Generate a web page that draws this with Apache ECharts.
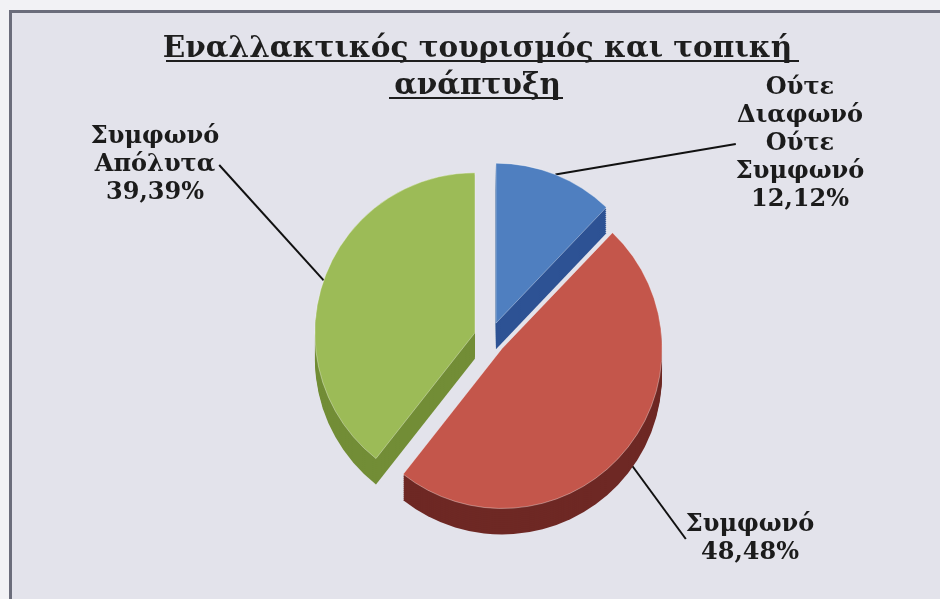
<!DOCTYPE html>
<html>
<head>
<meta charset="utf-8">
<title>Εναλλακτικός τουρισμός και τοπική ανάπτυξη</title>
<script src="https://cdn.jsdelivr.net/npm/echarts@6/dist/echarts.min.js"></script>
</head>
<body style="margin:0;background:#f2f2f5;">
<div id="main" style="position:absolute;left:9px;top:10px;width:931px;height:589px;border-left:3px solid #6b6d7b;border-top:3px solid #6b6d7b;"></div>
<script>
// data
var categories = ['Ούτε\nΔιαφωνό\nΟύτε\nΣυμφωνό', 'Συμφωνό', 'Συμφωνό\nΑπόλυτα'];
var percents = [12.12, 48.48, 39.39];

var topColors = ['#4f7fc0', '#c4564b', '#9cbb57'];
var sideColors = ['#2d5294', '#6e2824', '#728d36'];
var clearColors = ['rgba(0,0,0,0)', 'rgba(0,0,0,0)', 'rgba(0,0,0,0)'];

var chart = echarts.init(document.getElementById('main'));

var cx = 478, cy = 325, R = 160, depth = 26, explode = 16;
var serif = '"DejaVu Serif", "Liberation Serif", serif';

// label blocks (chart coords, top-centre of the text box)
var labelPos = [
  { x: 788, y: 61 },
  { x: 738, y: 498 },
  { x: 143, y: 110 }
];

function pieData(colors, sel) {
  var out = [];
  for (var i = 0; i < categories.length; i++) {
    out.push({
      name: categories[i],
      value: percents[i],
      selected: sel,
      itemStyle: { color: colors[i] }
    });
  }
  return out;
}

var series = [];
// side walls: darker copies pushed down
for (var d = depth; d >= 1; d -= 2) {
  series.push({
    type: 'pie',
    silent: true,
    center: [cx, cy + d],
    radius: R,
    startAngle: 90,
    selectedMode: 'multiple',
    selectedOffset: explode,
    label: { show: false },
    labelLine: { show: false },
    emphasis: { disabled: true },
    data: pieData(sideColors, true)
  });
}
// top face
series.push({
  type: 'pie',
  silent: true,
  center: [cx, cy],
  radius: R,
  startAngle: 90,
  selectedMode: 'multiple',
  selectedOffset: explode,
  itemStyle: { borderColor: 'rgba(255,255,255,0.35)', borderWidth: 1 },
  label: { show: false },
  labelLine: { show: false },
  emphasis: { disabled: true },
  data: pieData(topColors, true)
});
// invisible copy that carries the labels (radius reaches the exploded rim)
series.push({
  type: 'pie',
  silent: true,
  center: [cx, cy],
  radius: R + explode,
  startAngle: 90,
  emphasis: { disabled: true },
  label: {
    show: true,
    fontFamily: serif,
    fontWeight: 'bold',
    fontSize: 24,
    lineHeight: 28,
    color: '#1b1b1b',
    align: 'center',
    formatter: function (p) {
      return p.name + '\n' + p.value.toFixed(2).replace('.', ',') + '%';
    }
  },
  labelLine: {
    show: true,
    length: 10,
    length2: 0,
    lineStyle: { color: '#111', width: 2 }
  },
  labelLayout: function (p) {
    var pos = labelPos[p.dataIndex];
    return { x: pos.x, y: pos.y, align: 'center', verticalAlign: 'top' };
  },
  data: pieData(clearColors, false)
});

var option = {
  animation: false,
  backgroundColor: '#e3e3eb',
  title: {
    text: 'Εναλλακτικός τουρισμός και τοπική\nανάπτυξη',
    left: 'center',
    top: 13,
    textStyle: {
      fontFamily: serif,
      fontWeight: 'bold',
      fontSize: 29.5,
      lineHeight: 37,
      color: '#1e1e1e'
    }
  },
  graphic: [
    { type: 'line', shape: { x1: 154, y1: 48, x2: 787, y2: 48 }, style: { stroke: '#1e1e1e', lineWidth: 2 } },
    { type: 'line', shape: { x1: 377, y1: 85, x2: 551, y2: 85 }, style: { stroke: '#1e1e1e', lineWidth: 2 } }
  ],
  series: series
};

chart.setOption(option);
</script>
</body>
</html>
